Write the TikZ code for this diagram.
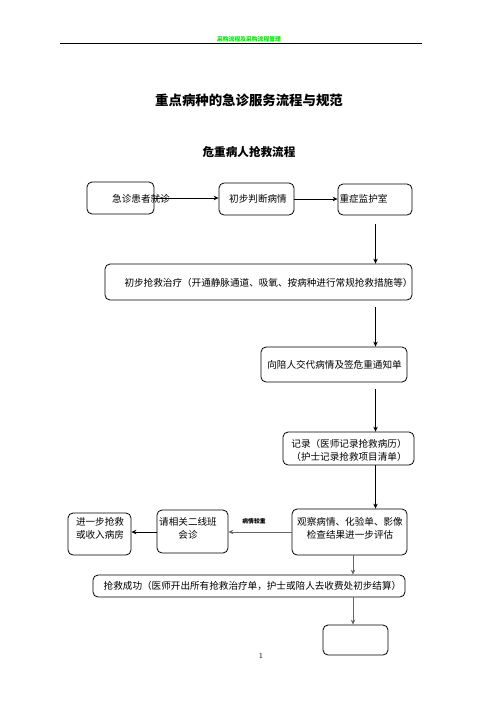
\documentclass[tikz,border=0pt]{standalone}
\usepackage{fontspec}
\newfontfamily\cjk{Noto Sans CJK SC}
\usetikzlibrary{arrows.meta}
\definecolor{hdrgreen}{RGB}{0,230,0}
\tikzset{
  box/.style={draw, rounded corners=5pt, line width=0.8pt, inner sep=0pt},
  lbl/.style={font=\cjk\fontsize{9.6}{13}\selectfont, inner sep=0pt, align=center},
  arr/.style={-{Stealth[length=5pt,width=4.5pt]}, line width=0.8pt},
  garr/.style={arr, draw=black!60},
}
\begin{document}
\begin{tikzpicture}[x=1pt,y=-1pt]
\useasboundingbox (0,0) rectangle (496,702);
% header
\node[font=\cjk\bfseries\fontsize{5.8}{6}\selectfont, text=hdrgreen, inner sep=0pt] (hdr) at (249,39) {采购流程及采购流程管理};
\coordinate (hl) at (60,43);
\coordinate (hr) at (422,43);
\draw[line width=0.8pt] (hl) -- (hr);
% titles
\node[font=\cjk\bfseries\fontsize{13.4}{15}\selectfont, inner sep=0pt] (title) at (249,100) {重点病种的急诊服务流程与规范};
\node[font=\cjk\bfseries\fontsize{11.6}{13}\selectfont, inner sep=0pt] (sub) at (249,152) {危重病人抢救流程};
% boxes
\node[box, minimum width=67pt, minimum height=32pt] (b1) at (120.5,198) {};
\node[box, minimum width=75pt, minimum height=32pt] (b2) at (256.5,199) {};
\node[box, minimum width=74pt, minimum height=31pt] (b3) at (375,199.5) {};
\node[box, minimum width=307pt, minimum height=36pt] (b4) at (258.5,282) {};
\node[box, minimum width=146pt, minimum height=35pt] (b5) at (334,364.5) {};
\node[box, minimum width=131pt, minimum height=33pt] (b6) at (348.5,448.5) {};
\node[box, minimum width=115pt, minimum height=46pt] (b7) at (349.5,532) {};
\node[box, minimum width=71pt, minimum height=43pt] (b8) at (192.5,531.5) {};
\node[box, minimum width=63pt, minimum height=42pt] (b9) at (99.5,534) {};
\node[box, minimum width=312pt, minimum height=22pt] (b10) at (249,586) {};
\node[box, minimum width=65pt, minimum height=30pt] (b11) at (355.5,640) {};
% texts
\node[lbl] (t1) at (141,199) {急诊患者就诊};
\node[lbl] (t2) at (258,199) {初步判断病情};
\node[lbl] (t3) at (363.5,199) {重症监护室};
\node[lbl] (t4) at (268.5,283) {初步抢救治疗（开通静脉通道、吸氧、按病种进行常规抢救措施等）};
\node[lbl] (t5) at (334.5,365) {向陪人交代病情及签危重通知单};
\node[lbl] (t6) at (349,450) {记录（医师记录抢救病历）\\（护士记录抢救项目清单）};
\node[lbl] (t7) at (350,528) {观察病情、化验单、影像\\检查结果进一步评估};
\node[lbl] (t8) at (188,528) {请相关二线班\\会诊};
\node[lbl] (t9) at (100,528.5) {进一步抢救\\或收入病房};
\node[lbl] (t10) at (252.5,586) {抢救成功（医师开出所有抢救治疗单，护士或陪人去收费处初步结算）};
\node[font=\cjk\bfseries\fontsize{5.8}{6}\selectfont, inner sep=0pt] (cond) at (254,521) {病情较重};
\node[font=\fontsize{8}{9}\selectfont, inner sep=0pt] (pg) at (261,656) {1};
% connectors
\coordinate (xr) at (375.5,0);
\coordinate (xm) at (353,0);
\draw[arr] (b1.east) -- (b2.west |- b1.east);
\draw[arr] (b2.east) -- (b3.west |- b2.east);
\draw[arr, shorten <=9pt] (b3.south -| xr) -- (b4.north -| xr);
\draw[arr, shorten <=7pt] (b4.south -| xr) -- (b5.north -| xr);
\draw[arr, shorten <=7pt] (b5.south -| xr) -- (b6.north -| xr);
\draw[arr] (b6.south -| xr) -- (b7.north -| xr);
\draw[garr] (b7.west) -- (b8.east |- b7.west);
\draw[arr] (b8.west |- b7.west) -- (b9.east |- b7.west);
\draw[garr] (b7.south -| xm) -- (b10.north -| xm);
\draw[garr] (b10.south -| xm) -- (b11.north -| xm);
\end{tikzpicture}
\end{document}
